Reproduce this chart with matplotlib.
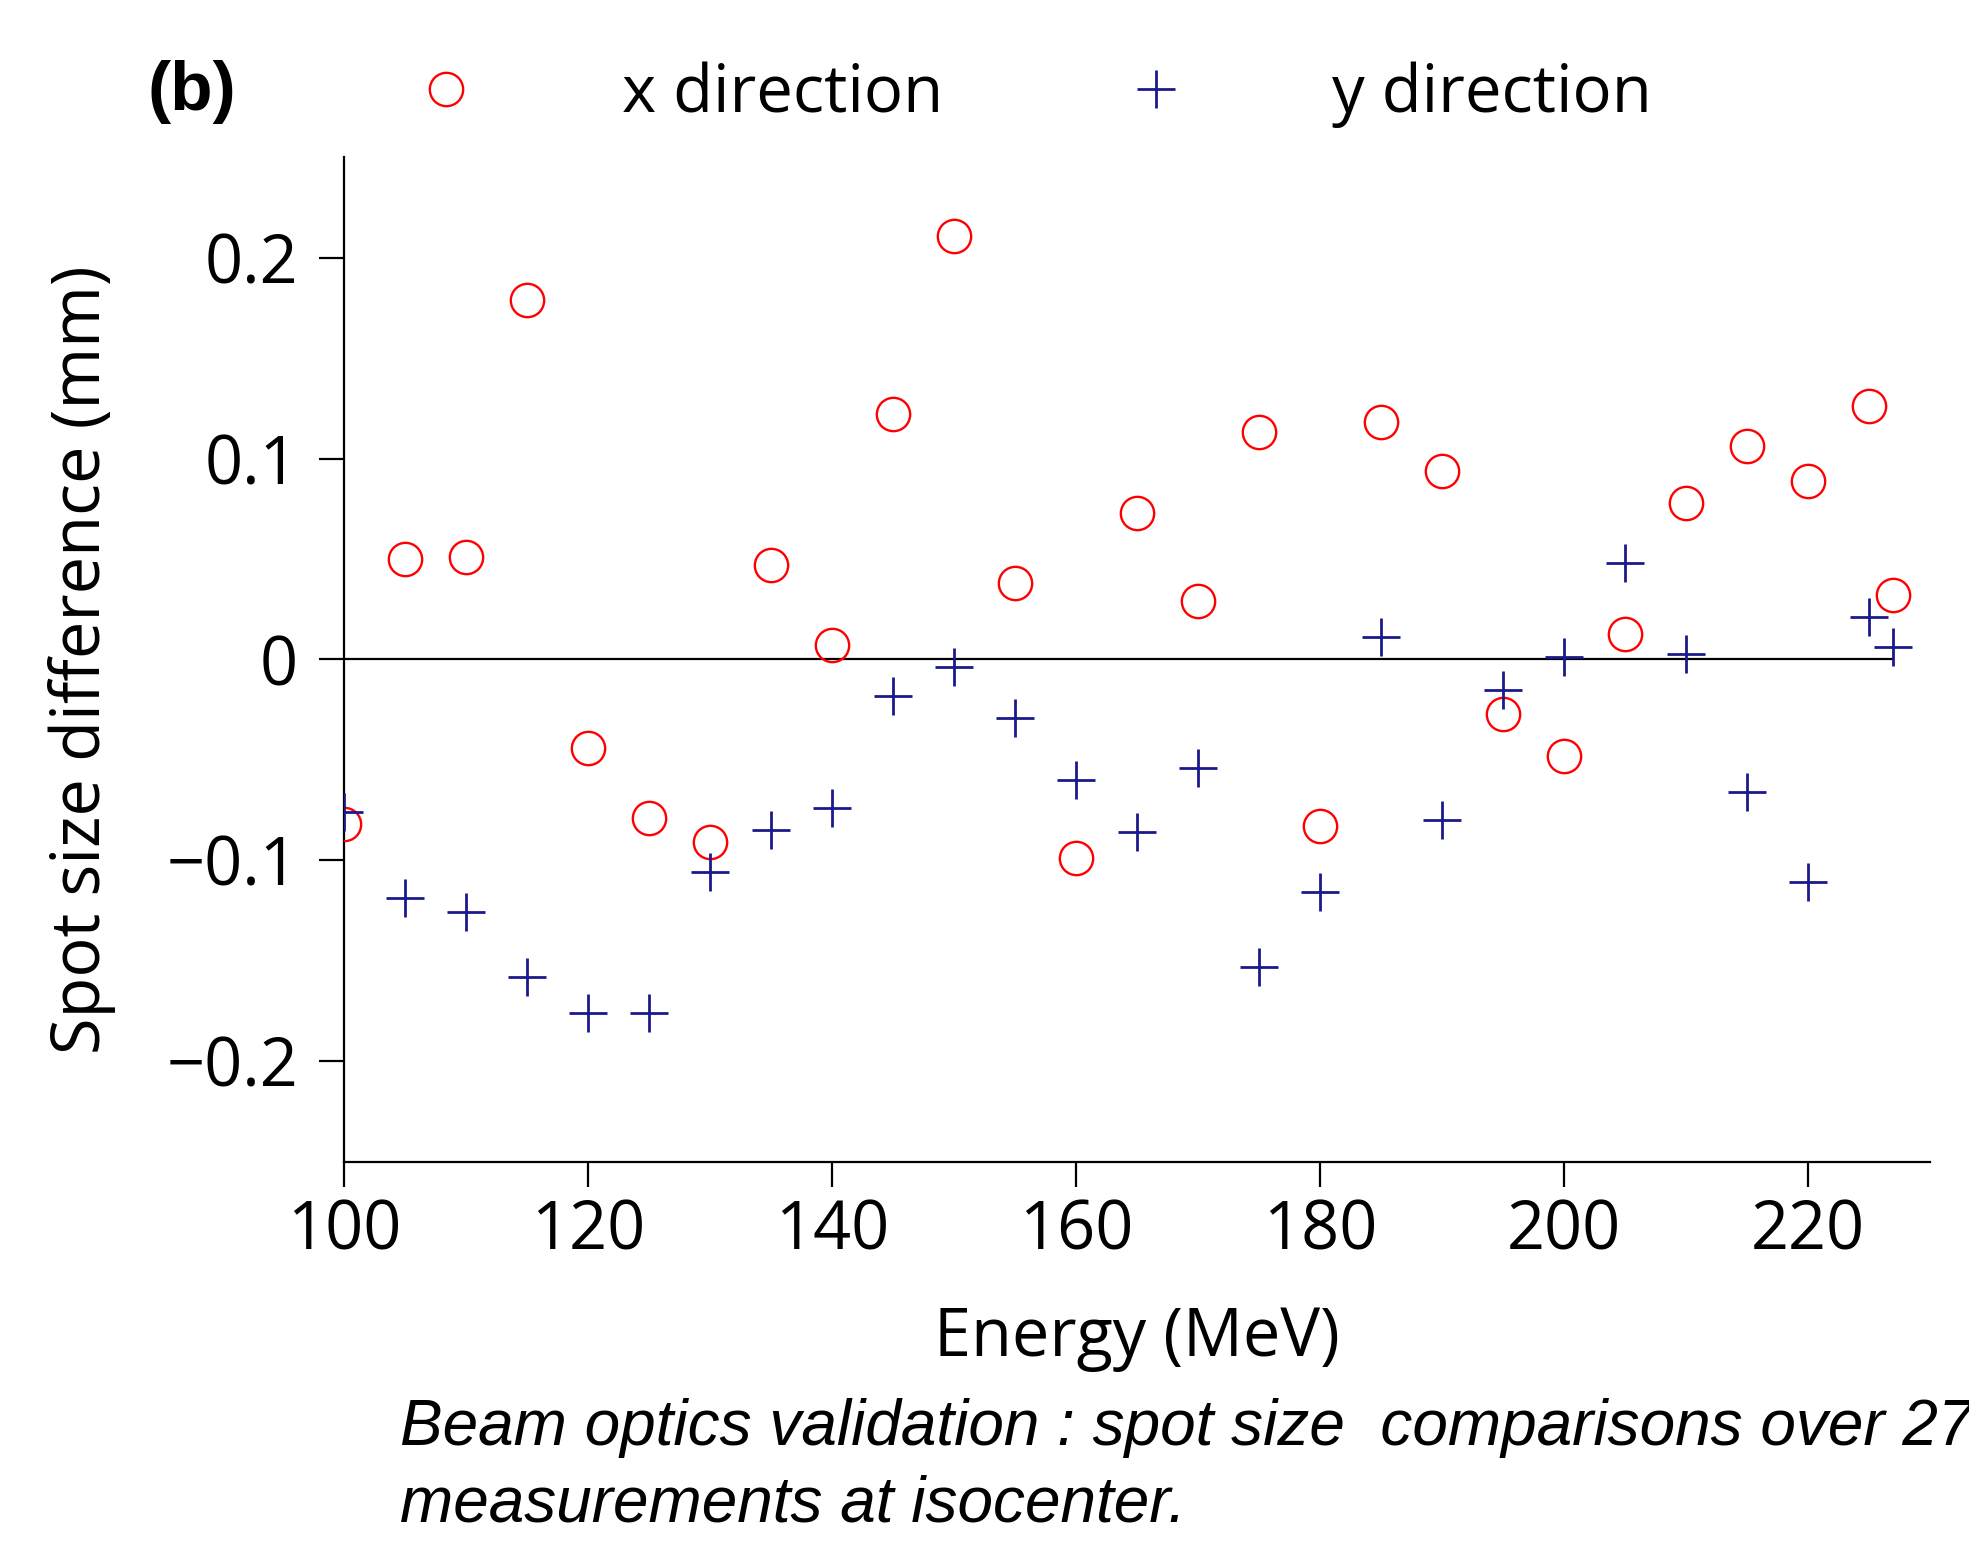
import matplotlib
matplotlib.use("Agg")
import matplotlib.pyplot as plt

plt.rcParams['font.family'] = ['Open Sans', 'DejaVu Sans']

# energies (MeV) of the 27 measurements
energy = [100, 105, 110, 115, 120, 125, 130, 135, 140, 145, 150, 155, 160, 165,
          170, 175, 180, 185, 190, 195, 200, 205, 210, 215, 220, 225, 227]

# spot size difference (mm)
x_diff = [-0.082, 0.050, 0.051, 0.179, -0.044, -0.079, -0.091, 0.047, 0.007,
          0.122, 0.211, 0.038, -0.099, 0.073, 0.029, 0.113, -0.083, 0.118,
          0.094, -0.027, -0.048, 0.0125, 0.078, 0.106, 0.089, 0.126, 0.032]
y_diff = [-0.076, -0.119, -0.126, -0.158, -0.176, -0.176, -0.106, -0.085,
          -0.074, -0.018, -0.004, -0.029, -0.060, -0.086, -0.054, -0.153,
          -0.116, 0.011, -0.080, -0.015, 0.001, 0.048, 0.0025, -0.066,
          -0.111, 0.021, 0.006]

x_ticks = [100, 120, 140, 160, 180, 200, 220]
y_ticks = [-0.2, -0.1, 0, 0.1, 0.2]
y_ticklabels = ['\u22120.2', '\u22120.1', '0', '0.1', '0.2']

fs = 48

fig = plt.figure(figsize=(19.69, 15.57), dpi=100)
ax = fig.add_axes([0.1747, 0.254, 0.8055, 0.645])

ax.hlines(0, 100, 227, color='black', linewidth=1.6, zorder=1)
ax.plot(energy, x_diff, linestyle='none', marker='o', markersize=24,
        markerfacecolor='none', markeredgecolor='red', markeredgewidth=1.7,
        label='x direction', zorder=3)
ax.plot(energy, y_diff, linestyle='none', marker='+', markersize=27,
        markeredgecolor='#1a1a8c', markeredgewidth=2.0,
        label='y direction', zorder=3)

ax.set_xlim(100, 230)
ax.set_ylim(-0.25, 0.25)
ax.set_xticks(x_ticks)
ax.set_yticks(y_ticks)
ax.set_yticklabels(y_ticklabels)
ax.spines['top'].set_visible(False)
ax.spines['right'].set_visible(False)
for s in ['left', 'bottom']:
    ax.spines[s].set_linewidth(1.6)
ax.tick_params(axis='both', direction='out', length=18, width=1.6,
               labelsize=fs)
ax.tick_params(axis='y', pad=15)
ax.tick_params(axis='x', pad=8)

ax.set_xlabel('Energy (MeV)', fontsize=fs, labelpad=28)
ax.set_ylabel('Spot size difference (mm)', fontsize=fs, labelpad=36)

fig.text(0.075, 0.941, '(b)', fontsize=50, fontweight='bold', va='center',
         family=['Liberation Sans', 'DejaVu Sans'])

fig.legend(loc='center left', bbox_to_anchor=(0.2016, 0.939), ncol=2,
           frameon=False, fontsize=47, handlelength=1.5, borderpad=0,
           handletextpad=1.95, columnspacing=2.5, borderaxespad=0)

# caption under the plot (cut at the right edge as in the source figure)
cap_font = ['Liberation Sans', 'DejaVu Sans']
fig.text(0.203, 0.0719,
         'Beam optics validation : spot size  comparisons over 27',
         fontsize=46, style='italic', family=cap_font, va='baseline')
fig.text(0.203, 0.0227, 'measurements at isocenter.',
         fontsize=46, style='italic', family=cap_font, va='baseline')

fig.savefig('out.png', dpi=100)
